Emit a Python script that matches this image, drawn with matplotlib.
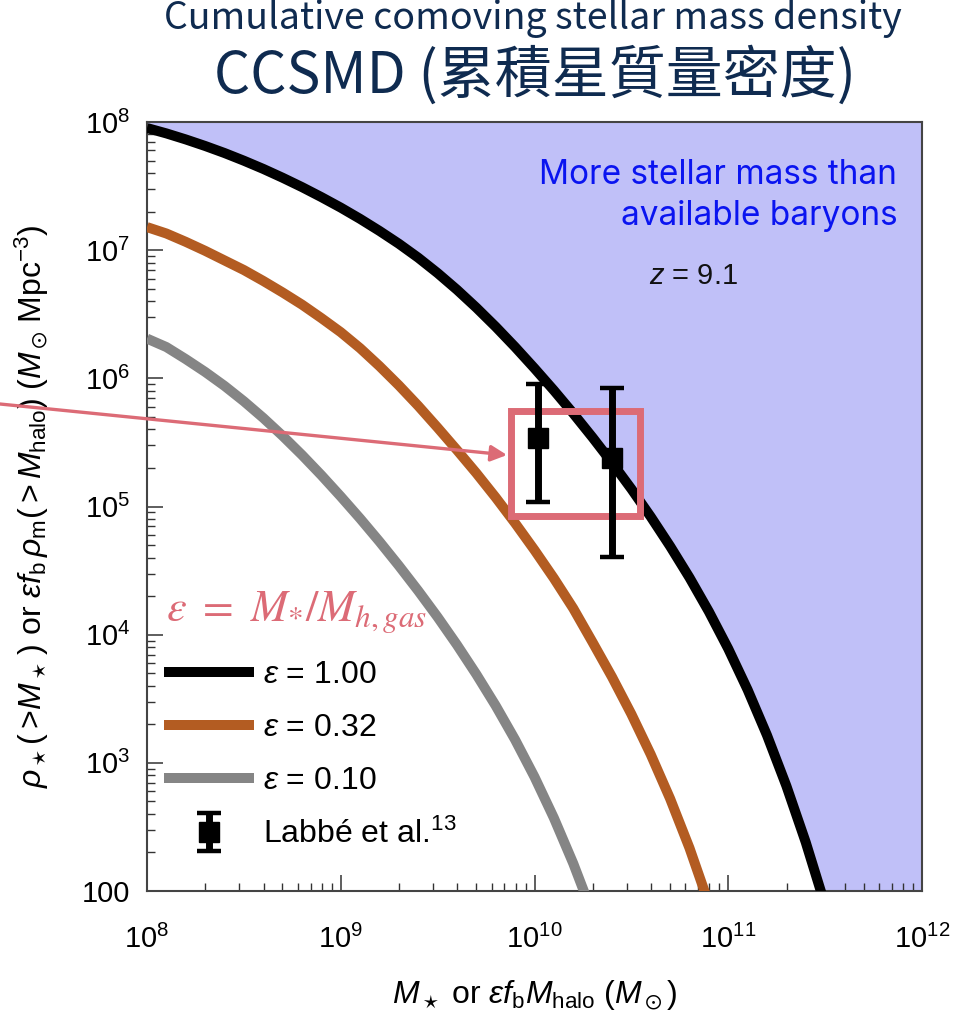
import numpy as np
import matplotlib
matplotlib.use("Agg")
import matplotlib.pyplot as plt
from matplotlib.legend_handler import HandlerErrorbar
from matplotlib.container import ErrorbarContainer
from matplotlib.lines import Line2D
from matplotlib.patches import Rectangle

plt.rcParams['font.family'] = ['Liberation Sans', 'DejaVu Sans']
plt.rcParams['mathtext.fontset'] = 'custom'
plt.rcParams['mathtext.rm'] = 'Liberation Sans'
plt.rcParams['mathtext.it'] = 'Liberation Sans:italic'
plt.rcParams['mathtext.bf'] = 'Liberation Sans:bold'
plt.rcParams['mathtext.fallback'] = 'stixsans'

# ---------------- data (log10 values) ----------------
black_logm = [8.0, 8.1, 8.2, 8.3, 8.4, 8.5, 8.6, 8.7, 8.8, 8.9,
              9.0, 9.1, 9.2, 9.3, 9.4, 9.5, 9.6, 9.7, 9.8, 9.9,
              10.0, 10.1, 10.2, 10.3, 10.4, 10.5, 10.6, 10.7, 10.8, 10.9,
              11.0, 11.1, 11.2, 11.3, 11.4, 11.5]
black_logr = [7.953, 7.911, 7.864, 7.813, 7.758, 7.698, 7.634, 7.565, 7.492, 7.414,
              7.332, 7.244, 7.150, 7.050, 6.941, 6.821, 6.691, 6.551, 6.402, 6.244,
              6.078, 5.906, 5.726, 5.538, 5.342, 5.137, 4.920, 4.690, 4.445, 4.180,
              3.890, 3.570, 3.215, 2.820, 2.380, 1.890]

orange_logm = [8.0, 8.1, 8.2, 8.3, 8.4, 8.5, 8.6, 8.7, 8.8, 8.9,
               9.0, 9.1, 9.2, 9.3, 9.4, 9.5, 9.6, 9.7, 9.8, 9.9,
               10.0, 10.1, 10.2, 10.3, 10.4, 10.5, 10.6, 10.7, 10.8, 10.9]
orange_logr = [7.18, 7.13, 7.065, 6.995, 6.92, 6.845, 6.76, 6.67, 6.575, 6.47,
               6.36, 6.235, 6.095, 5.945, 5.785, 5.615, 5.44, 5.26, 5.07, 4.87,
               4.66, 4.44, 4.205, 3.94, 3.67, 3.38, 3.065, 2.72, 2.335, 1.90]

gray_logm = [8.0, 8.1, 8.2, 8.3, 8.4, 8.5, 8.6, 8.7, 8.8, 8.9,
             9.0, 9.1, 9.2, 9.3, 9.4, 9.5, 9.6, 9.7, 9.8, 9.9,
             10.0, 10.1, 10.2, 10.3]
gray_logr = [6.31, 6.244, 6.150, 6.050, 5.941, 5.821, 5.691, 5.551, 5.402, 5.244,
             5.078, 4.906, 4.726, 4.538, 4.342, 4.137, 3.920, 3.690, 3.445, 3.180,
             2.890, 2.570, 2.215, 1.820]

labbe_mass = [1.04e10, 2.50e10]
labbe_rho = [3.4e5, 2.4e5]
labbe_upper = [9.0e5, 8.45e5]
labbe_lower = [1.09e5, 4.06e4]

eps_labels = [r'$\varepsilon$ = 1.00', r'$\varepsilon$ = 0.32', r'$\varepsilon$ = 0.10']
xtick_vals = [1e8, 1e9, 1e10, 1e11, 1e12]
xtick_labels = [r'$10^{8}$', r'$10^{9}$', r'$10^{10}$', r'$10^{11}$', r'$10^{12}$']
ytick_vals = [1e2, 1e3, 1e4, 1e5, 1e6, 1e7, 1e8]
ytick_labels = ['100', r'$10^{3}$', r'$10^{4}$', r'$10^{5}$', r'$10^{6}$', r'$10^{7}$', r'$10^{8}$']

# ---------------- figure ----------------
W, H = 965, 1019
fig = plt.figure(figsize=(W / 100, H / 100), dpi=100)
ax = fig.add_axes([147 / W, 1 - 891 / H, 775 / W, 769 / H])
ax.set_xscale('log')
ax.set_yscale('log')
ax.set_xlim(1e8, 1e12)
ax.set_ylim(1e2, 1e8)

bx = 10 ** np.array(black_logm)
by = 10 ** np.array(black_logr)
ox = 10 ** np.array(orange_logm)
oy = 10 ** np.array(orange_logr)
gx = 10 ** np.array(gray_logm)
gy = 10 ** np.array(gray_logr)

fill_c = '#C0C0F8'
ax.fill_between(bx, by, 1e9, color=fill_c, lw=0, zorder=1)
ax.fill_between([bx[-1], 1e12], [1e1, 1e1], [1e9, 1e9], color=fill_c, lw=0, zorder=1)

c_black, c_orange, c_gray = '#000000', '#B35C22', '#858585'
lw = 7.2
ax.plot(bx, by, color=c_black, lw=lw, solid_capstyle='butt', solid_joinstyle='round', zorder=4)
ax.plot(ox, oy, color=c_orange, lw=lw, solid_capstyle='butt', solid_joinstyle='round', zorder=4)
ax.plot(gx, gy, color=c_gray, lw=lw, solid_capstyle='butt', solid_joinstyle='round', zorder=4)

yerr = [np.array(labbe_rho) - np.array(labbe_lower), np.array(labbe_upper) - np.array(labbe_rho)]
eb = ax.errorbar(labbe_mass, labbe_rho, yerr=yerr, fmt='s', color='black', ms=15,
                 elinewidth=5, capsize=8.5, capthick=3.2, zorder=6)

# ticks
ax.set_xticks(xtick_vals)
ax.set_xticklabels(xtick_labels)
ax.set_yticks(ytick_vals)
ax.set_yticklabels(ytick_labels)
ax.tick_params(which='major', direction='in', length=11.5, width=1.1, color='#333333',
               labelsize=21, top=False, right=False)
ax.tick_params(which='minor', direction='in', length=6, width=1.0, color='#333333', top=False, right=False)
ax.tick_params(axis='x', which='major', pad=24)
ax.tick_params(axis='y', which='major', pad=12)
for s in ax.spines.values():
    s.set_color('#444444')
    s.set_linewidth(1.5)

ax.set_xlabel(r'$M_\star$ or $\varepsilon f_{\rm b} M_{\rm halo}$ $(M_\odot)$', fontsize=23, labelpad=18)
ax.set_ylabel(r'$\rho_\star(>\!M_\star\,)$ or $\varepsilon f_{\rm b}\,\rho_{\rm m}(>M_{\rm halo})$ $(M_\odot\,{\rm Mpc}^{-3})$',
              fontsize=23, labelpad=22)

# annotations inside the plot
ax.text(0.968, 0.952, 'More stellar mass than\navailable baryons', transform=ax.transAxes,
        ha='right', va='top', fontsize=24, color='#0A14F0', linespacing=1.38,
        family=['Inter', 'DejaVu Sans'], zorder=7)
ax.text(0.705, 0.80, r'$z$ = 9.1', transform=ax.transAxes, ha='center', va='center',
        fontsize=21, color='#111111', zorder=7)

# legend
h1 = Line2D([], [], color=c_black, lw=lw)
h2 = Line2D([], [], color=c_orange, lw=lw)
h3 = Line2D([], [], color=c_gray, lw=lw)
leg = ax.legend([h1, h2, h3, eb], eps_labels + ['Labbé et al.$^{13}$'],
                loc='upper left', bbox_to_anchor=(22 / 775, 1 - 538 / 769),
                frameon=False, fontsize=23, handlelength=2.5, handletextpad=0.45,
                labelspacing=0.72, borderpad=0, borderaxespad=0,
                handler_map={ErrorbarContainer: HandlerErrorbar(yerr_size=0.6)})
leg.set_zorder(8)

pink = '#DC6B76'
ax.text((166 - 147) / 775, 1 - (612 - 122) / 769,
        r'$\varepsilon\ =\ M_{*}/M_{h,gas}$', transform=ax.transAxes, ha='left', va='center',
        fontsize=32, color=pink, math_fontfamily='stix', zorder=8)

# pink box and arrow (figure pixel coordinates)
rect = Rectangle((511.5 / W, 1 - 515.5 / H), 128.5 / W, 105 / H, transform=fig.transFigure,
                 fill=False, edgecolor=pink, lw=5, zorder=5)
ax.add_patch(rect)
ax.annotate('', xy=(507, H - 455), xycoords='figure pixels', xytext=(0, H - 404),
            textcoords='figure pixels',
            arrowprops=dict(arrowstyle='-|>', color=pink, lw=2.4, mutation_scale=24,
                            shrinkA=0, shrinkB=0),
            annotation_clip=False, zorder=9)

# titles
navy = '#0F2B50'
fig.text(533 / W, 1 - 19 / H, 'Cumulative comoving stellar mass density', ha='center', va='center',
         fontsize=27, color=navy, family=['Noto Sans CJK TC', 'DejaVu Sans'])
fig.text(535 / W, 1 - 76 / H, 'CCSMD (累積星質量密度)', ha='center', va='center',
         fontsize=41, color=navy, family=['Noto Sans CJK TC', 'DejaVu Sans'])

fig.savefig('out.png', dpi=100)
